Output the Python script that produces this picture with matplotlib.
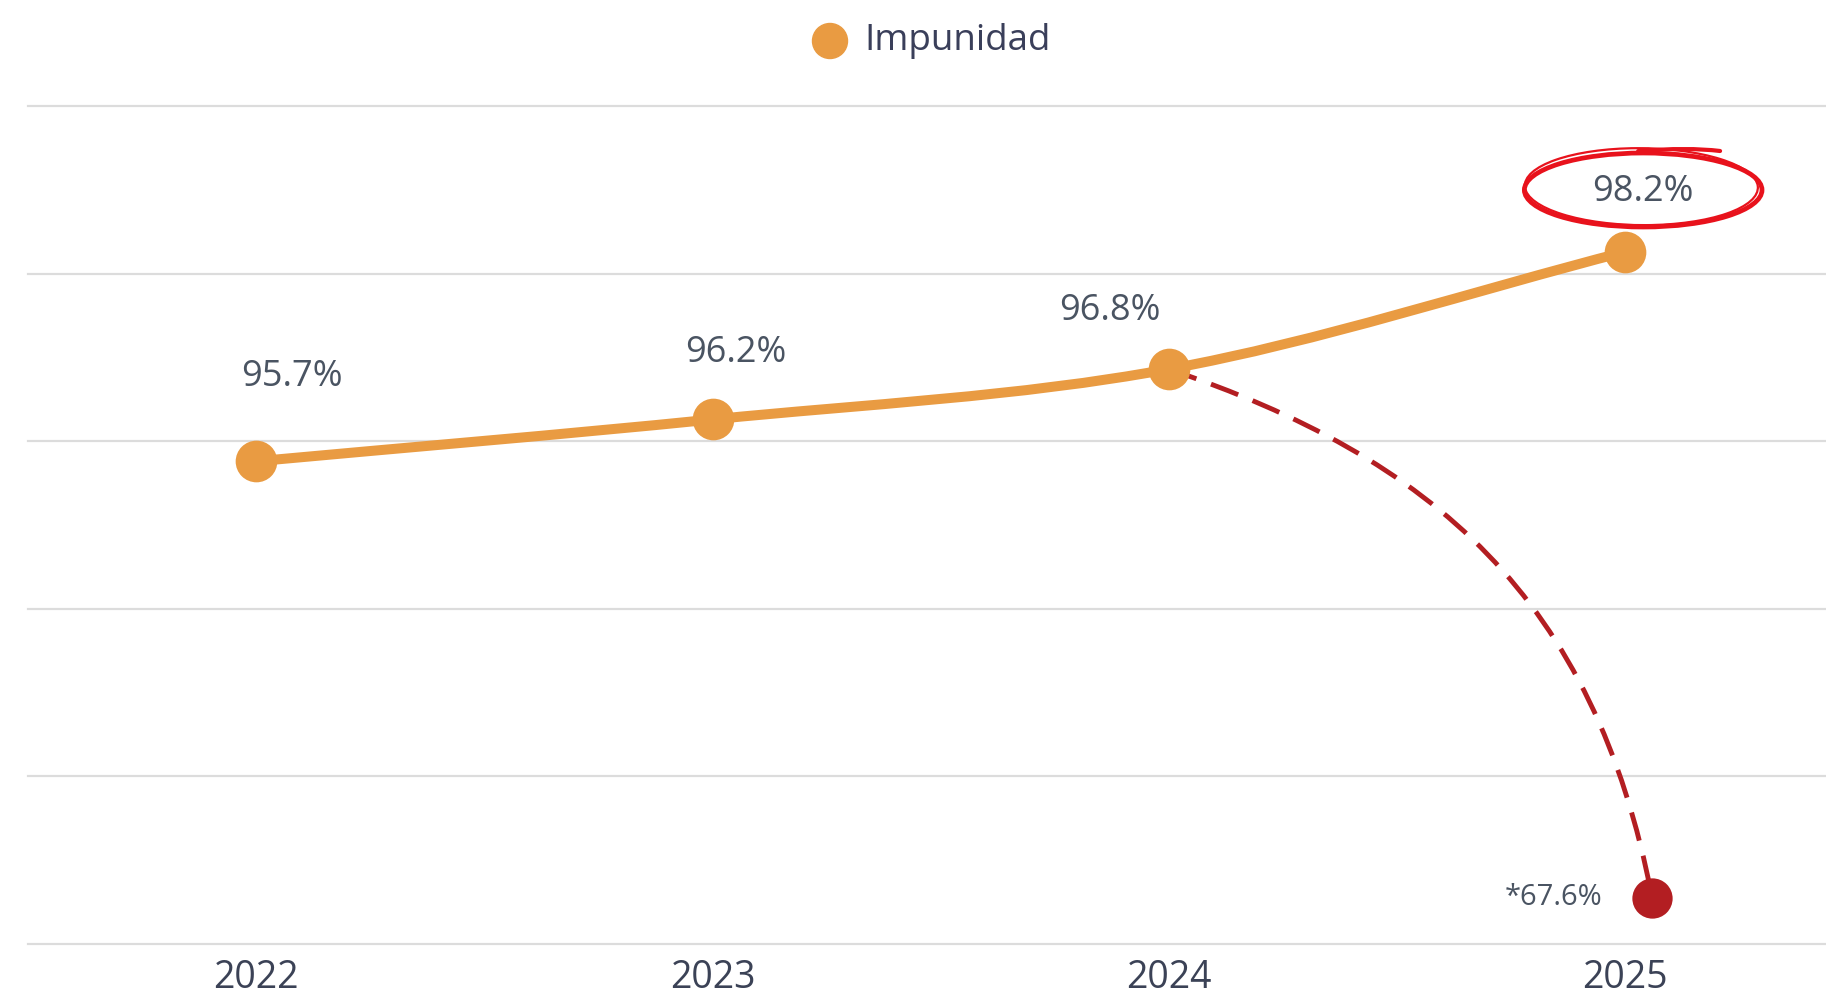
import matplotlib
matplotlib.use("Agg")
import matplotlib.pyplot as plt
from matplotlib.path import Path
from matplotlib.patches import PathPatch, Ellipse
from matplotlib.lines import Line2D
import numpy as np

# ---- data ----
years = ["2022", "2023", "2024", "2025"]
impunidad = [95.7, 96.2, 96.8, 98.2]
labels = ["95.7%", "96.2%", "96.8%", "98.2%"]
alt_value_label = "*67.6%"
series_name = "Impunidad"

# ---- style ----
ORANGE = "#E99B42"
DARKRED = "#B31E22"
RED = "#E8121C"
LABEL_C = "#4A5462"
YEAR_C = "#3B4256"
GRID_C = "#DCDCDC"
FONT = "Open Sans"

W, H = 1826, 994
Y0, Y1 = 89.94, 99.94
fig = plt.figure(figsize=(W / 100, H / 100), dpi=100)
ax = fig.add_axes([28 / W, 1 - 944 / H, 1 - 28 / W, (944 - 106) / H])
ax.set_xlim(-0.5, 3.44)
ax.set_ylim(Y0, Y1)
for s in ax.spines.values():
    s.set_visible(False)
ax.set_xticks([])
ax.set_yticks([])

# grid lines (6 evenly spaced horizontal rules)
for f in np.linspace(0, 1, 6):
    ax.add_line(Line2D([0, 1], [f, f], transform=ax.transAxes, color=GRID_C,
                       lw=1.6, zorder=0, clip_on=False))

x = np.arange(len(years))
y = np.array(impunidad)

# smooth line via cubic bezier
n = len(x)
slopes = np.diff(y) / np.diff(x)
m = np.zeros(n)
m[0] = slopes[0]
m[-1] = slopes[-1]
for i in range(1, n - 1):
    m[i] = (slopes[i - 1] + slopes[i]) / 2
verts = [(x[0], y[0])]
codes = [Path.MOVETO]
for i in range(n - 1):
    dx = x[i + 1] - x[i]
    verts += [(x[i] + dx / 3, y[i] + m[i] * dx / 3),
              (x[i + 1] - dx / 3, y[i + 1] - m[i + 1] * dx / 3),
              (x[i + 1], y[i + 1])]
    codes += [Path.CURVE4] * 3
ax.add_patch(PathPatch(Path(verts, codes), facecolor="none", edgecolor=ORANGE,
                       lw=7.2, capstyle="round", zorder=3))
ax.plot(x, y, "o", color=ORANGE, ms=30, mec="none", zorder=4)

# data labels
offsets = [(36, 84), (23, 66), (-59, 58), (18, 60)]  # pixels (dx, dy up)
for xi, yi, lab, (dx, dy) in zip(x, y, labels, offsets):
    ax.annotate(lab, (xi, yi), xytext=(dx * 0.72, dy * 0.72), textcoords="offset points",
                ha="center", va="center", fontsize=26, color=LABEL_C, family=FONT, zorder=5)

# year labels below axis
for xi, yr in zip(x, years):
    ax.annotate(yr, (xi, 0), xycoords=("data", "axes fraction"),
                xytext=(0, -34 * 0.72), textcoords="offset points",
                ha="center", va="center", fontsize=27, color=YEAR_C, family=FONT,
                annotation_clip=False)

# pixel -> data helper for annotation geometry
def px2d(px, py):
    return ((px - 256) / 457.0, Y0 + (944 - py) / 83.8)

# alternative 2025 value (off-scale annotation)
alt_x, alt_y = px2d(1654, 898)
ax.plot([alt_x], [alt_y], "o", color=DARKRED, ms=29, mec="none", zorder=4, clip_on=False)
ax.annotate(alt_value_label, (alt_x, alt_y), xytext=(-50 * 0.72, 0), textcoords="offset points",
            ha="right", va="center", fontsize=21, color=LABEL_C, family=FONT)

# dashed curved connector from 2024 point to alt point
P0 = (x[2], y[2])
C1 = px2d(1434, 458)
C2 = px2d(1596, 598)
P3 = (alt_x, alt_y)
conn = Path([P0, C1, C2, P3], [Path.MOVETO, Path.CURVE4, Path.CURVE4, Path.CURVE4])
ax.add_patch(PathPatch(conn, facecolor="none", edgecolor=DARKRED, lw=3.5,
                       linestyle=(0, (6, 3.2)), zorder=2))

# hand-drawn style red ellipse around 98.2%
ecx, ecy = px2d(1645, 190)
ew = 238 / 457.0
eh = 74 / 83.8
ax.add_patch(Ellipse((ecx, ecy), ew, eh, angle=0, fill=False, ec=RED, lw=3.4, zorder=6, clip_on=False))
ax.add_patch(Ellipse((ecx - 0.004, ecy + 0.04), ew * 0.98, eh * 1.04, angle=1.2, fill=False,
                     ec=RED, lw=1.6, zorder=6, clip_on=False))
tail = Path([px2d(1640, 151), px2d(1690, 147), px2d(1722, 151)],
            [Path.MOVETO, Path.CURVE3, Path.CURVE3])
ax.add_patch(PathPatch(tail, facecolor="none", edgecolor=RED, lw=3.0, capstyle="round",
                       zorder=6, clip_on=False))

# legend
fig.patches.append(Ellipse((830 / W, 1 - 41 / H), 35 / W, 35 / H, transform=fig.transFigure,
                           color=ORANGE, figure=fig))
fig.text(864 / W, 1 - 41 / H, series_name, ha="left", va="center", fontsize=26.5,
         color="#3A3F5A", family=FONT)

fig.savefig("out.png", dpi=100, facecolor="white")
